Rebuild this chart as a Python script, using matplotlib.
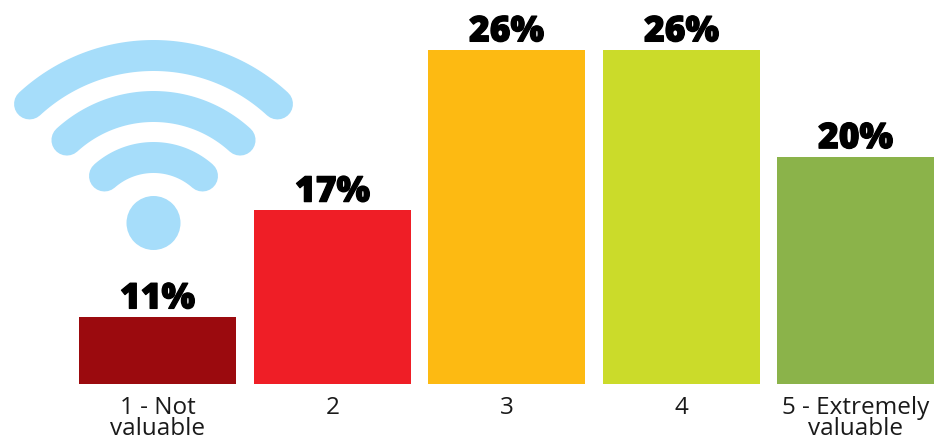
import numpy as np
import matplotlib
matplotlib.use('Agg')
import matplotlib.pyplot as plt
import matplotlib.patheffects as pe
from matplotlib.patches import Circle

labels = ['1 - Not\nvaluable', '2', '3', '4', '5 - Extremely\nvaluable']
values = [11, 17, 26, 26, 20]
pct_labels = ['11%', '17%', '26%', '26%', '20%']
colors = ['#9B0A0E', '#EF1E26', '#FDBA12', '#CBDB2A', '#8BB34A']

W, H = 953, 443
fig = plt.figure(figsize=(W/100, H/100), dpi=100)

# bars axes, the value axis does not start at zero in the original
ax = fig.add_axes([0, (H-384)/H, 1, 334/H])
ax.set_xlim(0, W)
ax.set_ylim(7.24, 26)
ax.axis('off')

centers = [157.5, 332.5, 506.5, 681.5, 855.5]
ax.bar(centers, values, width=157, color=colors)

for c, v, p in zip(centers, values, pct_labels):
    t = ax.annotate(p, (c, v), xytext=(0, 6.2), textcoords='offset points', ha='center', va='baseline',
                    fontsize=25.5, fontweight='heavy', family=['Open Sans', 'DejaVu Sans'], color='black',
                    annotation_clip=False)
    t.set_path_effects([pe.withStroke(linewidth=0.9, foreground='black')])

for c, l in zip(centers, labels):
    fig.text(c/W, 1-396/H, l, ha='center', va='top', fontsize=17.5, family='Open Sans',
             color='#1a1a1a', linespacing=0.86)

# wifi icon in pixel coordinates
ov = fig.add_axes([0, 0, 1, 1], zorder=-1)
ov.set_xlim(0, W)
ov.set_ylim(H, 0)
ov.axis('off')
blue = '#A6DDFA'
ov.add_patch(Circle((153.5, 223), 27, color=blue, lw=0))
for r, cy, half in [(74.1, 231.6, 41.4), (128.4, 234.9, 42.4), (182.8, 238.3, 42.7)]:
    a = np.radians(np.linspace(-half, half, 80))
    ov.plot(153.5 + r*np.sin(a), cy - r*np.cos(a), color=blue, lw=22.3, solid_capstyle='round')

fig.savefig('out.png', dpi=100)
